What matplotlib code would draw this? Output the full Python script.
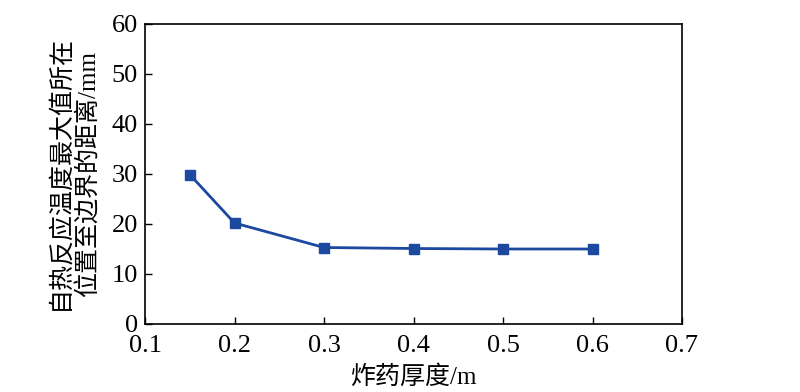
import matplotlib
matplotlib.use("Agg")
from matplotlib import pyplot as plt

# explosive thickness (m) vs. distance of max self-heating temperature to boundary (mm)
thickness = [0.15, 0.2, 0.3, 0.4, 0.5, 0.6]
distance = [29.9, 20.2, 15.3, 15.1, 15.0, 15.0]

x_ticks = [0.1, 0.2, 0.3, 0.4, 0.5, 0.6, 0.7]
y_ticks = [0, 10, 20, 30, 40, 50, 60]

fonts = ['Liberation Serif', 'Noto Sans CJK SC', 'DejaVu Sans']
plt.rcParams['font.family'] = fonts
plt.rcParams['font.size'] = 19

W, H = 800, 392
fig = plt.figure(figsize=(8, 3.92), dpi=100)
ax = fig.add_axes([145 / W, 1 - 324 / H, (682 - 145) / W, (324 - 24) / H])

ax.plot(thickness, distance, color='#1c48a0', lw=2, marker='s', ms=7.5)

ax.set_xlim(0.1, 0.7)
ax.set_ylim(0, 60)
ax.set_xticks(x_ticks)
ax.set_yticks(y_ticks)
ax.set_xticklabels(['%.1f' % v for v in x_ticks])
ax.tick_params(direction='in', length=5, width=1, top=False, right=False)
ax.tick_params(axis='x', pad=8)
ax.tick_params(axis='y', pad=5)
for s in ax.spines.values():
    s.set_linewidth(1.2)

# axis titles placed by hand, the two-line ylabel spacing is off with mixed fonts
fig.text(413 / W, 1 - 377 / H, '炸药厚度/m', ha='center', va='center', fontsize=18)
fig.text(59 / W, 1 - 172 / H, '自热反应温度最大值所在', rotation=90,
         ha='center', va='center', fontsize=18)
fig.text(89 / W, 1 - 174 / H, '位置至边界的距离/mm', rotation=90,
         ha='center', va='center', fontsize=18)

plt.savefig('out.png', dpi=100)
plt.close(fig)
